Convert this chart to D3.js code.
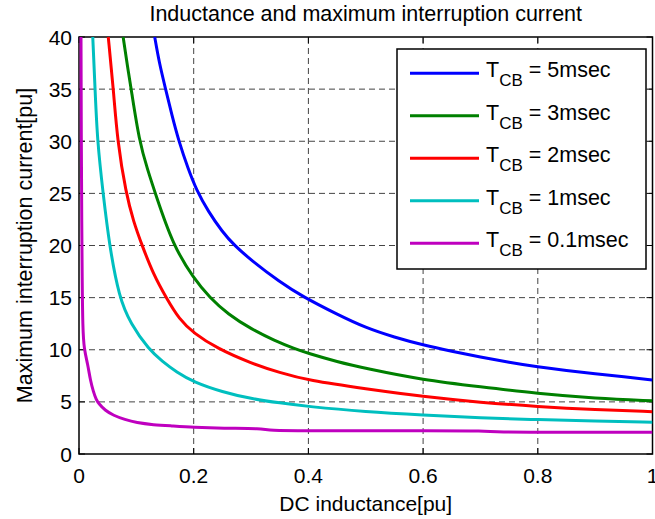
<!DOCTYPE html>
<html>
<head>
<meta charset="utf-8">
<script src="https://cdn.jsdelivr.net/npm/d3@7"></script>
<style>
  body { margin: 0; background: #fff; }
  svg text { font-family: "Liberation Sans", Arial, sans-serif; fill: #000; }
</style>
</head>
<body>
<div id="chart"></div>
<script>
let width = 655, height = 519;
let margin = {top: 37, right: 2, bottom: 65, left: 79};

// values: DC inductance [pu] and max interruption current [pu]
let L_5ms = [0.132, 0.14, 0.151, 0.162, 0.174, 0.19, 0.205, 0.225, 0.25, 0.271, 0.3, 0.35, 0.39, 0.45, 0.5, 0.55, 0.6, 0.65, 0.7, 0.75, 0.8, 0.85, 0.9, 0.95, 1.0];
let I_5ms = [40, 37.5, 35, 32.5, 30, 27.4, 25.3, 23.3, 21.3, 20, 18.6, 16.5, 15.1, 13.4, 12.1, 11.2, 10.45, 9.85, 9.3, 8.8, 8.35, 8.0, 7.7, 7.4, 7.1];

let L_3ms = [0.077, 0.085, 0.091, 0.105, 0.12, 0.133, 0.164, 0.2, 0.228, 0.26, 0.3, 0.34, 0.376, 0.4, 0.45, 0.5, 0.6, 0.7, 0.8, 0.9, 1.0];
let I_3ms = [40, 37, 35, 30, 27.2, 25, 20, 16.85, 15, 13.4, 12, 10.9, 10.1, 9.65, 8.85, 8.2, 7.1, 6.45, 5.8, 5.35, 5.1];

let L_2ms = [0.051, 0.06, 0.067, 0.082, 0.095, 0.11, 0.13, 0.152, 0.175, 0.2, 0.24, 0.3, 0.35, 0.4, 0.5, 0.6, 0.7, 0.8, 0.9, 1.0];
let I_2ms = [40, 35, 30, 25, 22.3, 20, 17.2, 15, 12.9, 11.6, 10.15, 8.7, 7.8, 7.05, 6.25, 5.5, 4.95, 4.55, 4.25, 4.06];

let L_1ms = [0.024, 0.028, 0.032, 0.042, 0.053, 0.07, 0.09, 0.122, 0.145, 0.17, 0.2, 0.25, 0.3, 0.35, 0.4, 0.5, 0.6, 0.7, 0.8, 0.9, 1.0];
let I_1ms = [40, 35, 30, 25, 20, 15, 12.5, 10, 8.9, 7.85, 6.9, 5.95, 5.3, 4.9, 4.54, 4.06, 3.74, 3.45, 3.3, 3.15, 3.04];

let L_01ms = [0.0035, 0.004, 0.0048, 0.0055, 0.0065, 0.009, 0.015, 0.02, 0.025, 0.03, 0.035, 0.045, 0.06, 0.08, 0.1, 0.13, 0.16, 0.2, 0.25, 0.32, 0.33, 0.4, 0.5, 0.6, 0.715, 0.72, 0.85, 1.0];
let I_01ms = [40, 30, 22, 17, 12, 10, 8.7, 7.0, 6.0, 5.2, 4.8, 4.2, 3.7, 3.3, 3.0, 2.8, 2.7, 2.56, 2.46, 2.45, 2.25, 2.24, 2.24, 2.24, 2.24, 2.09, 2.09, 2.09];

let seriesNames = ["5msec", "3msec", "2msec", "1msec", "0.1msec"];
let seriesColors = ["#0000ff", "#008000", "#ff0000", "#00bfbf", "#bf00bf"];
let seriesL = [L_5ms, L_3ms, L_2ms, L_1ms, L_01ms];
let seriesI = [I_5ms, I_3ms, I_2ms, I_1ms, I_01ms];

let xTicks = [0, 0.2, 0.4, 0.6, 0.8, 1];
let yTicks = [0, 5, 10, 15, 20, 25, 30, 35, 40];

let plotW = width - margin.left - margin.right;
let plotH = height - margin.top - margin.bottom;

let svg = d3.select("#chart")
    .append("svg")
    .attr("width", width)
    .attr("height", height);

let x = d3.scaleLinear().domain([0, 1]).range([margin.left, margin.left + plotW - 0.5]);
let y = d3.scaleLinear().domain([0, 40]).range([margin.top + plotH, margin.top]);

// Grid (dashed)
let grid = svg.append("g").attr("class", "grid");
grid.selectAll(".gx")
    .data(xTicks.slice(1, -1))
    .enter().append("line")
    .attr("x1", d => x(d)).attr("x2", d => x(d))
    .attr("y1", y(0)).attr("y2", y(40))
    .attr("stroke", "#444").attr("stroke-width", 1)
    .attr("stroke-dasharray", "6,4");
grid.selectAll(".gy")
    .data(yTicks.slice(1, -1))
    .enter().append("line")
    .attr("x1", x(0)).attr("x2", x(1))
    .attr("y1", d => y(d)).attr("y2", d => y(d))
    .attr("stroke", "#444").attr("stroke-width", 1)
    .attr("stroke-dasharray", "6,4");

// Inward ticks on all four sides
let tickLen = 6;
let ticks = svg.append("g").attr("stroke", "#000").attr("stroke-width", 1);
xTicks.forEach(t => {
    ticks.append("line").attr("x1", x(t)).attr("x2", x(t)).attr("y1", y(0)).attr("y2", y(0) - tickLen);
    ticks.append("line").attr("x1", x(t)).attr("x2", x(t)).attr("y1", y(40)).attr("y2", y(40) + tickLen);
});
yTicks.forEach(t => {
    ticks.append("line").attr("x1", x(0)).attr("x2", x(0) + tickLen).attr("y1", y(t)).attr("y2", y(t));
    ticks.append("line").attr("x1", x(1)).attr("x2", x(1) - tickLen).attr("y1", y(t)).attr("y2", y(t));
});

// Box
svg.append("rect")
    .attr("x", x(0)).attr("y", y(40))
    .attr("width", x(1) - x(0)).attr("height", y(0) - y(40))
    .attr("fill", "none").attr("stroke", "#000").attr("stroke-width", 1.5);

// Clip for curves
svg.append("clipPath").attr("id", "clip")
    .append("rect")
    .attr("x", x(0) - 2).attr("y", y(40) - 1)
    .attr("width", x(1) - x(0) + 2).attr("height", y(0) - y(40) + 1);

let line = d3.line()
    .curve(d3.curveBasis)
    .x(d => x(d[0]))
    .y(d => y(d[1]));

svg.append("g")
    .attr("clip-path", "url(#clip)")
    .selectAll("path")
    .data(seriesNames.map((n, i) => seriesL[i].map((l, j) => [l, seriesI[i][j]])))
    .enter().append("path")
    .attr("d", line)
    .attr("fill", "none")
    .attr("stroke", (d, i) => seriesColors[i])
    .attr("stroke-width", 3)
    .attr("stroke-linejoin", "round");

// Tick labels
svg.append("g").selectAll("text")
    .data(xTicks)
    .enter().append("text")
    .attr("x", d => x(d))
    .attr("y", y(0) + 29)
    .attr("text-anchor", "middle")
    .style("font-size", "21px")
    .text(d => d3.format("")(d));

svg.append("g").selectAll("text")
    .data(yTicks)
    .enter().append("text")
    .attr("x", x(0) - 7)
    .attr("y", d => y(d) + 7.5)
    .attr("text-anchor", "end")
    .style("font-size", "21px")
    .text(d => d);

// Title and axis labels
svg.append("text")
    .attr("x", (x(0) + x(1)) / 2)
    .attr("y", 21)
    .attr("text-anchor", "middle")
    .style("font-size", "21.5px")
    .text("Inductance and maximum interruption current");

svg.append("text")
    .attr("x", (x(0) + x(1)) / 2)
    .attr("y", 511)
    .attr("text-anchor", "middle")
    .style("font-size", "21px")
    .text("DC inductance[pu]");

svg.append("text")
    .attr("transform", `translate(32, ${(y(0) + y(40)) / 2}) rotate(-90)`)
    .attr("text-anchor", "middle")
    .style("font-size", "21.5px")
    .text("Maximum interruption current[pu]");

// Legend
let legend = svg.append("g");
legend.append("rect")
    .attr("x", 397).attr("y", 49)
    .attr("width", 249).attr("height", 220)
    .attr("fill", "#fff").attr("stroke", "#000").attr("stroke-width", 1.5);

seriesNames.forEach((n, i) => {
    let ly = 73.3 + i * 42.5;
    legend.append("line")
        .attr("x1", 410).attr("x2", 479)
        .attr("y1", ly).attr("y2", ly)
        .attr("stroke", seriesColors[i]).attr("stroke-width", 3);
    let t = legend.append("text")
        .attr("x", 486).attr("y", ly + 4)
        .style("font-size", "21.5px");
    t.append("tspan").text("T");
    t.append("tspan").attr("dy", 9).style("font-size", "17px").text("CB");
    t.append("tspan").attr("dy", -9).text(" = " + n);
});
</script>
</body>
</html>
